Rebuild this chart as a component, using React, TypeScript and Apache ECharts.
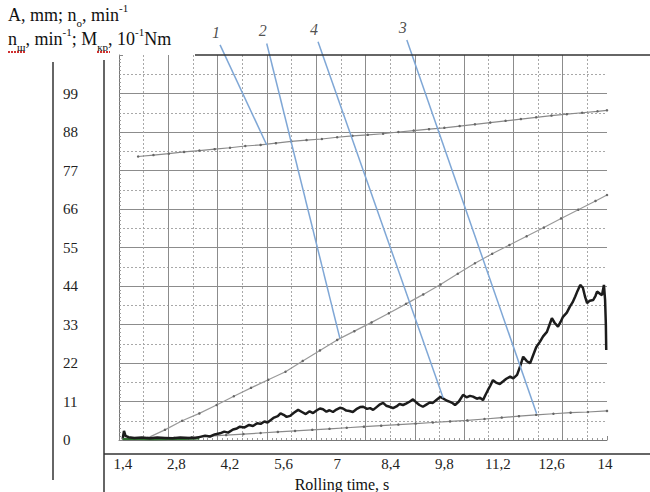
import React, { useEffect, useRef } from "react";
import * as echarts from "echarts";

const SERIF = '"Liberation Serif", "Times New Roman", serif';

const xTickLabels = [1.4, 2.8, 4.2, 5.6, 7, 8.4, 9.8, 11.2, 12.6, 14];

// curve 1: n_o (upper, nearly straight)
const curve1 = [
  [1.8, 81.0], [2.2, 81.4], [2.6, 81.8], [3.0, 82.3], [3.4, 82.7], [3.8, 83.1],
  [4.2, 83.5], [4.6, 84.0], [5.0, 84.3], [5.4, 84.8], [5.8, 85.3], [6.2, 85.7],
  [6.6, 86.0], [7.0, 86.5], [7.4, 86.9], [7.8, 87.2], [8.2, 87.5], [8.6, 88.0],
  [9.0, 88.4], [9.4, 88.8], [9.8, 89.2], [10.2, 89.7], [10.6, 90.2], [11.0, 90.7],
  [11.4, 91.2], [11.8, 91.7], [12.2, 92.2], [12.6, 92.7], [13.0, 93.1], [13.4, 93.5],
  [13.8, 93.9], [14.05, 94.2],
];

// curve 2: A (middle rising)
const curve2 = [
  [1.4, 0.5], [1.6, 0.5], [1.8, 0.5], [2.05, 0.6], [2.5, 2.9], [2.95, 5.5], [3.4, 7.6],
  [3.85, 10.0], [4.3, 12.5], [4.75, 14.9], [5.2, 17.2], [5.65, 19.5], [6.1, 22.6],
  [6.55, 25.6], [7.0, 28.6], [7.45, 31.1], [7.9, 33.6], [8.35, 36.2], [8.8, 38.9],
  [9.25, 41.6], [9.7, 44.4], [10.15, 47.5], [10.6, 50.5], [11.05, 53.2], [11.5, 55.7],
  [11.95, 58.2], [12.4, 60.7], [12.85, 63.3], [13.3, 65.8], [13.75, 68.3], [14.05, 70.0],
];

// curve 3: n_ш (bottom, slow rise)
const curve3 = [
  [1.4, 0.4], [1.85, 0.4], [2.3, 0.5], [2.75, 0.6], [3.2, 0.8], [3.65, 1.1], [4.1, 1.4],
  [4.55, 1.7], [5.0, 2.0], [5.45, 2.3], [5.9, 2.6], [6.35, 2.9], [6.8, 3.2], [7.25, 3.5],
  [7.7, 3.8], [8.15, 4.1], [8.6, 4.4], [9.05, 4.7], [9.5, 5.0], [9.95, 5.3], [10.4, 5.6],
  [10.85, 6.0], [11.3, 6.4], [11.75, 6.8], [12.2, 7.2], [12.65, 7.5], [13.1, 7.8],
  [13.55, 8.0], [14.05, 8.3],
];

// curve 4: M_кр (noisy black)
const curve4 = [
  [1.4, 0.6], [1.43, 2.6], [1.47, 1.2], [1.55, 0.8], [1.7, 0.6], [1.9, 0.7], [2.1, 0.5],
  [2.3, 0.7], [2.5, 0.6], [2.7, 0.5], [2.9, 0.7], [3.1, 0.6], [3.3, 0.6],
  [3.42, 0.9], [3.55, 1.2], [3.68, 1.0], [3.8, 1.6], [3.94, 1.9], [4.05, 2.4], [4.15, 2.1],
  [4.28, 3.0], [4.38, 3.3], [4.46, 3.8], [4.58, 3.6], [4.7, 4.3], [4.8, 4.0], [4.91, 4.8],
  [5.0, 4.6], [5.1, 5.3], [5.18, 5.0], [5.25, 5.6], [5.35, 6.4], [5.45, 6.8], [5.52, 7.6],
  [5.6, 7.2], [5.68, 6.6], [5.77, 6.9], [5.87, 7.8], [5.98, 8.6], [6.08, 8.0], [6.18, 7.4],
  [6.28, 8.2], [6.37, 7.7], [6.47, 8.5], [6.55, 9.0], [6.63, 8.8], [6.72, 8.1], [6.8, 8.5],
  [6.89, 8.0], [6.98, 8.7], [7.07, 9.2], [7.15, 9.0], [7.24, 8.4], [7.32, 8.3], [7.41, 8.0],
  [7.5, 8.8], [7.6, 9.4], [7.68, 9.5], [7.78, 8.9], [7.86, 9.1], [7.94, 8.6], [8.03, 9.4],
  [8.12, 10.2], [8.2, 10.6], [8.28, 9.8], [8.37, 9.5], [8.46, 9.1], [8.55, 9.6], [8.63, 10.3],
  [8.72, 10.0], [8.8, 10.4], [8.9, 11.0], [8.98, 11.6], [9.06, 10.8], [9.15, 10.0],
  [9.24, 9.5], [9.33, 10.1], [9.42, 10.7], [9.5, 10.6], [9.6, 11.5], [9.69, 12.3],
  [9.78, 11.8], [9.87, 11.2], [9.95, 10.9], [10.02, 10.5], [10.08, 10.0], [10.18, 11.0],
  [10.29, 12.9], [10.38, 12.2], [10.47, 12.6], [10.55, 12.4], [10.65, 11.8], [10.73, 12.1],
  [10.81, 11.4], [10.88, 13.0], [10.94, 14.3], [11.0, 15.5], [11.07, 17.1], [11.15, 16.4],
  [11.25, 16.0], [11.33, 16.7], [11.42, 17.5], [11.52, 18.1], [11.6, 17.6], [11.7, 18.6],
  [11.78, 21.0], [11.86, 23.8], [11.95, 22.6], [12.04, 21.9], [12.12, 24.2], [12.2, 26.5],
  [12.3, 28.1], [12.38, 29.6], [12.48, 30.9], [12.55, 33.0], [12.61, 34.8], [12.68, 33.5],
  [12.77, 32.4], [12.84, 33.8], [12.9, 35.2], [13.0, 36.4], [13.08, 38.1], [13.15, 39.3],
  [13.22, 41.0], [13.28, 42.6], [13.35, 44.3], [13.42, 43.5], [13.48, 40.8], [13.53, 39.1],
  [13.6, 39.8], [13.69, 40.0], [13.75, 41.2], [13.79, 42.4], [13.85, 41.9], [13.92, 41.4],
  [13.97, 44.3], [14.0, 40.0], [14.02, 33.0], [14.03, 25.7],
];

// green trace along the baseline at the start
const curveGreen = [
  [1.4, 0.3], [1.8, 0.3], [2.2, 0.2], [2.6, 0.3], [3.0, 0.3], [3.4, 0.4],
];

// leader lines: [start (label end), end (on curve)]
const leaderNames = ["1", "2", "4", "3"];
const leaderLines = [
  [[3.94, 112.9], [5.16, 84.3]],
  [[5.16, 113.3], [7.07, 29.1]],
  [[6.5, 113.8], [9.77, 12.0]],
  [[8.82, 114.3], [12.21, 7.6]],
];

const grayLine = (data: number[][], color: string) => ({
  type: "line",
  xAxisIndex: 0,
  yAxisIndex: 0,
  data,
  showSymbol: true,
  showAllSymbol: true,
  symbol: "circle",
  symbolSize: 2.5,
  itemStyle: { color: "#666" },
  lineStyle: { color, width: 1.2 },
  silent: true,
  z: 3,
});

export default function App() {
  const ref = useRef<HTMLDivElement>(null);
  useEffect(() => {
    const chart = echarts.init(ref.current!, null, { renderer: "svg" });
    const rich = {
      n: { fontSize: 18, lineHeight: 26, verticalAlign: "middle", fontFamily: SERIF, color: "#111" },
      sup: { fontSize: 11, lineHeight: 22, verticalAlign: "top", fontFamily: SERIF, color: "#111" },
      sub: { fontSize: 11, lineHeight: 18, verticalAlign: "bottom", fontFamily: SERIF, color: "#111" },
    };
    const frame = { stroke: "#333", lineWidth: 1.5 };
    const redDots = { stroke: "#d03030", lineWidth: 2, lineDash: [2, 1] };
    const option: any = {
      animation: false,
      backgroundColor: "#fff",
      grid: { left: 119, top: 55, width: 488, height: 385, containLabel: false },
      xAxis: [
        {
          type: "value", min: 1.3, max: 14.05, position: "bottom",
          axisLine: { show: false }, axisTick: { show: false }, splitLine: { show: false },
          axisLabel: {
            customValues: xTickLabels,
            formatter: (v: number) => String(v).replace(".", ","),
            margin: 16, fontFamily: SERIF, fontSize: 15, color: "#222",
          },
        },
        {
          type: "value", min: 0, max: 9.9, interval: 0.5, position: "bottom",
          axisLabel: { show: false }, axisLine: { show: false }, axisTick: { show: false },
          splitLine: { show: true, showMinLine: false, showMaxLine: false, lineStyle: { color: "#a8a8a8", type: [2, 2], width: 1 } },
        },
        {
          type: "value", min: 0, max: 9.9, interval: 1, position: "bottom",
          axisLabel: { show: false },
          axisLine: { show: true, onZero: false, lineStyle: { color: "#777", width: 1 } },
          axisTick: { show: true, inside: true, length: 4, lineStyle: { color: "#888" } },
          minorTick: { show: true, splitNumber: 10, length: 2, lineStyle: { color: "#999" } },
          splitLine: { show: true, showMinLine: false, showMaxLine: false, lineStyle: { color: "#8c8c8c", width: 1 } },
        },
      ],
      yAxis: [
        {
          type: "value", min: 0, max: 110, interval: 11, position: "left",
          axisLine: { show: false }, axisTick: { show: false }, splitLine: { show: false },
          axisLabel: {
            formatter: (v: number) => (v >= 110 ? "" : String(v)),
            align: "left", margin: 56, fontFamily: SERIF, fontSize: 15, color: "#222",
          },
        },
        {
          type: "value", min: 0, max: 110, interval: 5.5, position: "left",
          axisLabel: { show: false }, axisLine: { show: false }, axisTick: { show: false },
          splitLine: { show: true, showMinLine: false, showMaxLine: false, lineStyle: { color: "#a8a8a8", type: [2, 2], width: 1 } },
        },
        {
          type: "value", min: 0, max: 110, interval: 11, position: "left",
          axisLabel: { show: false },
          axisLine: { show: true, onZero: false, lineStyle: { color: "#777", width: 1 } },
          axisTick: { show: true, inside: true, length: 4, lineStyle: { color: "#888" } },
          minorTick: { show: true, splitNumber: 10, length: 2, lineStyle: { color: "#999" } },
          splitLine: { show: true, showMinLine: true, showMaxLine: false, lineStyle: { color: "#8c8c8c", width: 1 } },
        },
      ],
      series: [
        grayLine(curve1, "#8a8a8a"),
        grayLine(curve2, "#9a9a9a"),
        grayLine(curve3, "#8a8a8a"),
        {
          type: "line", xAxisIndex: 0, yAxisIndex: 0, data: curveGreen, showSymbol: false,
          lineStyle: { color: "#2f6e2f", width: 2 }, silent: true, z: 4,
        },
        {
          type: "line", xAxisIndex: 0, yAxisIndex: 0, data: curve4, showSymbol: false,
          lineStyle: { color: "#1c1c1c", width: 2.5 }, silent: true, z: 5,
        },
        ...leaderLines.map((seg) => ({
          type: "line", xAxisIndex: 0, yAxisIndex: 0, clip: false, showSymbol: false,
          silent: true, z: 6,
          lineStyle: { color: "#7fa7d6", width: 1.5 },
          data: seg,
        })),
        {
          type: "scatter", xAxisIndex: 0, yAxisIndex: 0, clip: false, silent: true, z: 7,
          symbolSize: 1,
          itemStyle: { color: "rgba(0,0,0,0)" },
          data: leaderLines.map((seg, i) => ({ value: seg[0], name: leaderNames[i] })),
          label: {
            show: true, formatter: (p: any) => p.name, position: "top", distance: 4,
            offset: [-4, 0], fontFamily: SERIF, fontStyle: "italic", fontSize: 16, color: "#222",
          },
        },
      ],
      graphic: [
        { type: "line", shape: { x1: 53, y1: 62, x2: 53, y2: 480 }, style: frame, z: 10 },
        { type: "line", shape: { x1: 104, y1: 60, x2: 104, y2: 492 }, style: frame, z: 10 },
        { type: "line", shape: { x1: 104, y1: 454, x2: 650, y2: 454 }, style: frame, z: 10 },
        { type: "line", shape: { x1: 195, y1: 55, x2: 650, y2: 55 }, style: frame, z: 10 },
        {
          type: "text", x: 8, y: 2, z: 10,
          style: {
            text: "{n|A, mm; n}{sub|o}{n|, min}{sup|-1}",
            rich, textVerticalAlign: "top", fill: "#111",
          },
        },
        {
          type: "text", x: 8, y: 26, z: 10,
          style: {
            text: "{n|n}{sub|ш}{n|, min}{sup|-1}{n|; M}{sub|кр}{n|, 10}{sup|-1}{n|Nm}",
            rich, textVerticalAlign: "top", fill: "#111",
          },
        },
        { type: "line", shape: { x1: 8, y1: 52, x2: 26, y2: 52 }, style: redDots, z: 10 },
        { type: "line", shape: { x1: 97, y1: 52, x2: 110, y2: 52 }, style: redDots, z: 10 },
        {
          type: "text", x: 342, y: 484, z: 10,
          style: {
            text: "Rolling time, s", fontFamily: SERIF, fontSize: 16, fill: "#111",
            textAlign: "center", textVerticalAlign: "middle",
          },
        },
      ],
    };
    chart.setOption(option);
    return () => chart.dispose();
  }, []);
  return <div ref={ref} style={{ position: "fixed", left: 0, top: 0, width: 650, height: 492 }} />;
}
